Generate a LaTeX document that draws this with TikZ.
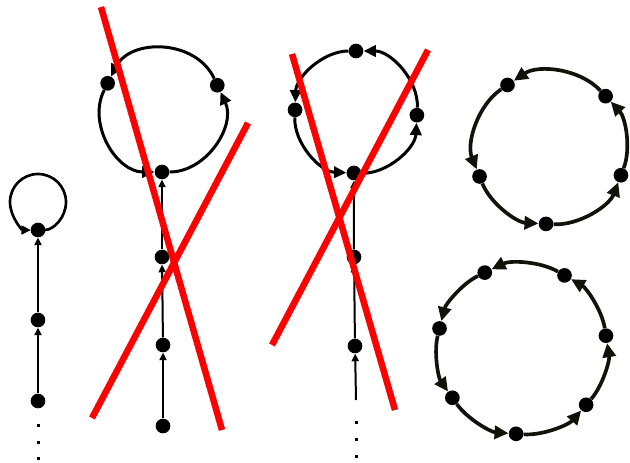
\documentclass[tikz,border=0pt]{standalone}
\usepackage{tikz}
\usetikzlibrary{arrows.meta,calc}

\definecolor{ringdark}{RGB}{18,17,10}

\begin{document}
\begin{tikzpicture}[
    x=0.3mm, y=0.3mm,
    dot/.style={circle, fill=black, inner sep=0pt, minimum size=4.4mm},
    speck/.style={rectangle, fill=black, inner sep=0pt, minimum size=0.9mm},
    tail/.style={-{Triangle[length=2.3mm, width=2.1mm]}, line width=0.6mm},
    selfloop/.style={-{Triangle[length=2.9mm, width=2.6mm]}, line width=0.8mm},
    ring/.style={-{Triangle[length=3.7mm, width=3.4mm]}, line width=0.9mm},
    bigring/.style={-{Triangle[length=4.2mm, width=3.9mm]}, line width=1.1mm, draw=ringdark},
    cross/.style={red, line width=1.95mm}
]
\useasboundingbox (0,0) rectangle (630,-462);

% ===== Chain with a self loop =====
\node[dot] (a1) at (38,-401) {};
\node[dot] (a2) at (38,-320) {};
\node[dot] (a3) at (38,-230) {};
\draw[tail] (a1) -- (a2);
\draw[tail] (a2) -- (a3);
\draw[selfloop, shorten <=2.1mm, shorten >=2.1mm] (a3) arc[start angle=-90, end angle=270, radius=28];
\foreach \i/\y in {1/425, 2/442, 3/458}
    \node[speck] (adot\i) at (38,-\y) {};

% ===== Chain into a 3-cycle (crossed out) =====
\coordinate (c2) at (162,-111);
\foreach \n/\ang in {1/270, 2/25, 3/153}
    \node[dot] (b\n) at ($(c2)+(\ang:61)$) {};
\node[dot] (b4) at (162,-257) {};
\node[dot] (b5) at (163,-345) {};
\node[dot] (b6) at (163,-426) {};
\draw[tail] (b6) -- (b5);
\draw[tail] (b5) -- (b4);
\draw[tail] (b4) -- (b1);
\foreach \s/\t/\u/\v/\k in {1/2/0/-65/44.6, 2/3/115/63/50.8, 3/1/243/180/45.6}
    \draw[ring] (b\s) .. controls +(\u:\k) and +(\v:\k) .. (b\t);

% ===== Chain into a 4-cycle (crossed out) =====
\coordinate (c3) at (356,-112);
\foreach \n/\ang in {1/268, 2/357, 3/90, 4/178}
    \node[dot] (d\n) at ($(c3)+(\ang:61)$) {};
\node[dot] (d5) at (354,-257) {};
\node[dot] (d6) at (355,-346) {};
\coordinate (dend) at (356,-400);
\draw[tail] (dend) -- (d6);
\draw[tail] (d6) -- (d5);
\draw[tail] (d5) -- (d1);
\foreach \s/\t/\u/\v/\k in {1/2/358/267/33.3, 2/3/87/0/34.9, 3/4/180/88/32.9, 4/1/268/178/33.7}
    \draw[ring] (d\s) .. controls +(\u:\k) and +(\v:\k) .. (d\t);
\foreach \i/\y in {1/422, 2/439, 3/456}
    \node[speck] (ddot\i) at (356,-\y) {};

% ===== 5-cycle =====
\coordinate (c4) at (550,-148);
\foreach \n/\ang in {1/267, 2/339, 3/43, 4/124, 5/202}
    \node[dot] (e\n) at ($(c4)+(\ang:76)$) {};
\foreach \s/\t/\u/\v/\k in {1/2/357/249/32.9, 2/3/69/313/29.1, 3/4/133/34/37.4, 4/5/214/112/35.9, 5/1/292/177/29.5}
    \draw[bigring] (e\s) .. controls +(\u:\k) and +(\v:\k) .. (e\t);

% ===== 7-cycle =====
\coordinate (c5) at (522,-349);
\foreach \n/\ang in {1/266, 2/319, 3/9, 4/60, 5/116, 6/166, 7/215}
    \node[dot] (f\n) at ($(c5)+(\ang:85)$) {};
\foreach \s/\t/\u/\v/\k in {1/2/356/229/26.7, 2/3/49/279/25.1, 3/4/99/330/25.6, 4/5/150/26/28.3, 5/6/206/76/25.1, 6/7/256/125/24.6, 7/1/305/176/25.6}
    \draw[bigring] (f\s) .. controls +(\u:\k) and +(\v:\k) .. (f\t);

% ===== Red crosses =====
\coordinate (x1a) at (101,-7);  \coordinate (x1b) at (222,-430);
\coordinate (x2a) at (92,-418); \coordinate (x2b) at (248,-123);
\coordinate (x3a) at (292,-54); \coordinate (x3b) at (395,-410);
\coordinate (x4a) at (272,-345); \coordinate (x4b) at (428,-50);
\draw[cross] (x1a) -- (x1b);
\draw[cross] (x2a) -- (x2b);
\draw[cross] (x3a) -- (x3b);
\draw[cross] (x4a) -- (x4b);

\end{tikzpicture}
\end{document}
